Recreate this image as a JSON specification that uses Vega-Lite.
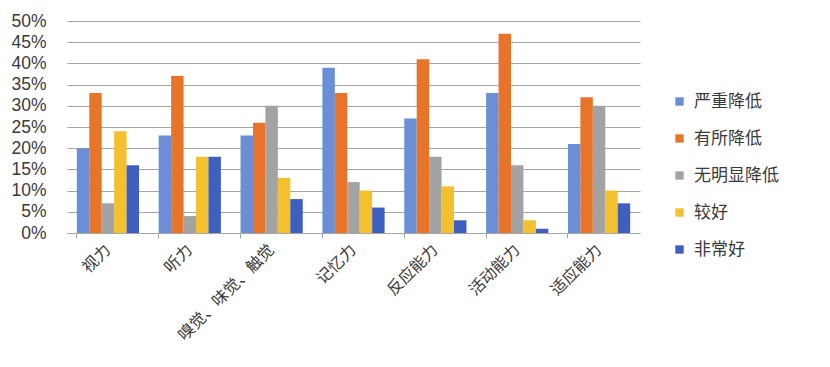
{
  "$schema": "https://vega.github.io/schema/vega-lite/v6.json",
  "width": 573,
  "height": 212,
  "autosize": {"type": "none"},
  "padding": {"left": 67, "top": 21, "right": 190, "bottom": 134},
  "background": "white",
  "config": {
    "view": {"stroke": null},
    "font": "Noto Sans CJK SC"
  },
  "data": {
    "values": [
      {"category": "视力", "series": "严重降低", "value": 0.20},
      {"category": "视力", "series": "有所降低", "value": 0.33},
      {"category": "视力", "series": "无明显降低", "value": 0.07},
      {"category": "视力", "series": "较好", "value": 0.24},
      {"category": "视力", "series": "非常好", "value": 0.16},
      {"category": "听力", "series": "严重降低", "value": 0.23},
      {"category": "听力", "series": "有所降低", "value": 0.37},
      {"category": "听力", "series": "无明显降低", "value": 0.04},
      {"category": "听力", "series": "较好", "value": 0.18},
      {"category": "听力", "series": "非常好", "value": 0.18},
      {"category": "嗅觉、味觉、触觉", "series": "严重降低", "value": 0.23},
      {"category": "嗅觉、味觉、触觉", "series": "有所降低", "value": 0.26},
      {"category": "嗅觉、味觉、触觉", "series": "无明显降低", "value": 0.30},
      {"category": "嗅觉、味觉、触觉", "series": "较好", "value": 0.13},
      {"category": "嗅觉、味觉、触觉", "series": "非常好", "value": 0.08},
      {"category": "记忆力", "series": "严重降低", "value": 0.39},
      {"category": "记忆力", "series": "有所降低", "value": 0.33},
      {"category": "记忆力", "series": "无明显降低", "value": 0.12},
      {"category": "记忆力", "series": "较好", "value": 0.10},
      {"category": "记忆力", "series": "非常好", "value": 0.06},
      {"category": "反应能力", "series": "严重降低", "value": 0.27},
      {"category": "反应能力", "series": "有所降低", "value": 0.41},
      {"category": "反应能力", "series": "无明显降低", "value": 0.18},
      {"category": "反应能力", "series": "较好", "value": 0.11},
      {"category": "反应能力", "series": "非常好", "value": 0.03},
      {"category": "活动能力", "series": "严重降低", "value": 0.33},
      {"category": "活动能力", "series": "有所降低", "value": 0.47},
      {"category": "活动能力", "series": "无明显降低", "value": 0.16},
      {"category": "活动能力", "series": "较好", "value": 0.03},
      {"category": "活动能力", "series": "非常好", "value": 0.01},
      {"category": "适应能力", "series": "严重降低", "value": 0.21},
      {"category": "适应能力", "series": "有所降低", "value": 0.32},
      {"category": "适应能力", "series": "无明显降低", "value": 0.30},
      {"category": "适应能力", "series": "较好", "value": 0.10},
      {"category": "适应能力", "series": "非常好", "value": 0.07}
    ]
  },
  "encoding": {
    "x": {
      "field": "category",
      "type": "nominal",
      "sort": ["视力", "听力", "嗅觉、味觉、触觉", "记忆力", "反应能力", "活动能力", "适应能力"],
      "scale": {"paddingInner": 0.24, "paddingOuter": 0.12}
    },
    "y": {
      "field": "value",
      "type": "quantitative",
      "scale": {"domain": [0, 0.5], "nice": false},
      "axis": {
        "title": null,
        "format": ".0%",
        "values": [0, 0.05, 0.1, 0.15, 0.2, 0.25, 0.3, 0.35, 0.4, 0.45, 0.5],
        "domain": false,
        "ticks": false,
        "labelPadding": 21,
        "labelFont": "Liberation Sans",
        "labelFontSize": 17.5,
        "labelColor": "#3a3a3a",
        "gridColor": "#a6a6a6",
        "gridWidth": 1
      }
    }
  },
  "layer": [
    {
      "mark": {"type": "bar"},
      "encoding": {
        "x": {
          "field": "category",
          "type": "nominal",
          "sort": ["视力", "听力", "嗅觉、味觉、触觉", "记忆力", "反应能力", "活动能力", "适应能力"],
          "axis": {
            "title": null,
            "ticks": false,
            "domain": true,
            "domainColor": "#a6a6a6",
            "labelAngle": -45,
            "labelAlign": "right",
            "labelBaseline": "middle",
            "labelPadding": 14,
            "labelFontSize": 16,
            "labelColor": "#3a3a3a",
            "orient": "bottom"
          }
        },
        "xOffset": {
          "field": "series",
          "type": "nominal",
          "sort": ["严重降低", "有所降低", "无明显降低", "较好", "非常好"],
          "scale": {"paddingInner": 0}
        },
        "color": {
          "field": "series",
          "type": "nominal",
          "sort": ["严重降低", "有所降低", "无明显降低", "较好", "非常好"],
          "scale": {
            "domain": ["严重降低", "有所降低", "无明显降低", "较好", "非常好"],
            "range": ["#6a8fd6", "#e8742a", "#a3a3a3", "#f3c02e", "#3f5fc0"]
          },
          "legend": {
            "title": null,
            "orient": "none",
            "legendX": 604,
            "legendY": 72,
            "symbolType": "square",
            "symbolSize": 70,
            "symbolStrokeWidth": 0,
            "labelFontSize": 17,
            "labelColor": "#3a3a3a",
            "labelOffset": 6,
            "rowPadding": 19
          }
        }
      }
    },
    {
      "mark": {"type": "bar", "opacity": 0},
      "encoding": {
        "x": {
          "field": "category",
          "type": "nominal",
          "sort": ["视力", "听力", "嗅觉、味觉、触觉", "记忆力", "反应能力", "活动能力", "适应能力"],
          "axis": {
            "title": null,
            "orient": "bottom",
            "bandPosition": 0,
            "labels": false,
            "domain": false,
            "grid": false,
            "ticks": true,
            "tickSize": 5,
            "tickColor": "#a6a6a6"
          }
        }
      }
    }
  ],
  "resolve": {"axis": {"x": "independent"}}
}
